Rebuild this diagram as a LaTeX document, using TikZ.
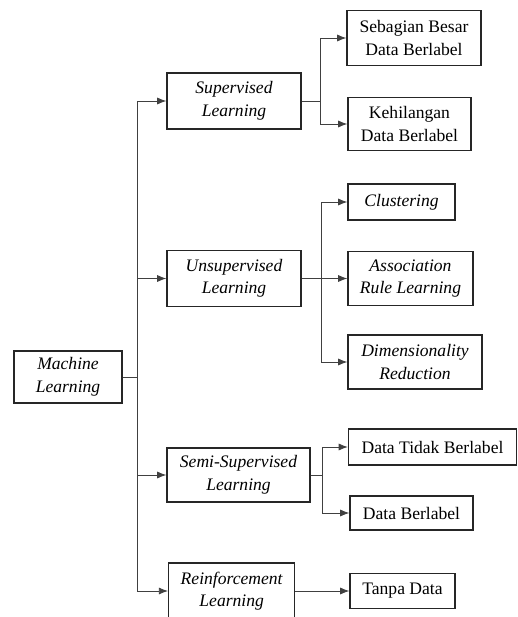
\documentclass[tikz,border=0pt]{standalone}
\usepackage{fontspec}
\setmainfont{Liberation Serif}
\usetikzlibrary{arrows.meta,positioning}

\begin{document}
\begin{tikzpicture}[
    x=0.025cm, y=-0.025cm,
    box/.style={rectangle, draw=black!85, line width=0.9pt, align=center, inner sep=2pt, font=\fontsize{12.5}{16}\selectfont\itshape},
    plainbox/.style={box, font=\fontsize{12.5}{16}\selectfont},
    arrow/.style={-{Latex[length=6.5pt,width=5pt]}, draw=black!75, line width=0.6pt}
]
\useasboundingbox (0,0) rectangle (518,617);

\node[box, minimum width=2.7cm, minimum height=1.3cm] (ml) at (68,377) {Machine\\Learning};

\node[box, minimum width=3.35cm, minimum height=1.4cm] (sup) at (234,101) {Supervised\\Learning};
\node[box, minimum width=3.35cm, minimum height=1.4cm] (unsup) at (234,278.5) {Unsupervised\\Learning};
\node[box, minimum width=3.575cm, minimum height=1.35cm] (semi) at (238.5,475) {Semi-Supervised\\Learning};
\node[box, minimum width=3.15cm, minimum height=1.4cm, anchor=west] (reinf) at (168,591) {Reinforcement\\Learning};

\node[plainbox, minimum width=3.35cm, minimum height=1.375cm] (sebagian) at (414,38) {Sebagian Besar\\Data Berlabel};
\node[plainbox, minimum width=3.075cm, minimum height=1.325cm] (hilang) at (409.5,124) {Kehilangan\\Data Berlabel};

\node[box, minimum width=2.675cm, minimum height=0.9cm] (clus) at (401.5,202) {Clustering};
\node[box, minimum width=3.125cm, minimum height=1.35cm] (assoc) at (410.5,278.5) {Association\\Rule Learning};
\node[box, minimum width=3.35cm, minimum height=1.35cm] (dimred) at (415,362) {Dimensionality\\Reduction};

\node[plainbox, minimum width=4.2cm, minimum height=0.9cm] (tidak) at (432.5,447) {Data Tidak Berlabel};
\node[plainbox, minimum width=3.075cm, minimum height=0.85cm] (label) at (411.5,513) {Data Berlabel};

\node[plainbox, minimum width=2.625cm, minimum height=0.875cm] (tanpa) at (402.5,591) {Tanpa Data};

\draw[arrow] (ml.east) -- ++(15,0) |- (sup.west);
\draw[arrow] (ml.east) -- ++(15,0) |- (unsup.west);
\draw[arrow] (ml.east) -- ++(15,0) |- (semi.west);
\draw[arrow] (ml.east) -- ++(15,0) |- (reinf.west);

\draw[arrow] (sup.east) -- ++(19,0) |- (sebagian.west);
\draw[arrow] (sup.east) -- ++(19,0) |- (hilang.west);

\draw[arrow] (unsup.east) -- ++(20,0) |- (clus.west);
\draw[arrow] (unsup.east) -- (assoc.west);
\draw[arrow] (unsup.east) -- ++(20,0) |- (dimred.west);

\draw[arrow] (semi.east) -- ++(12,0) |- (tidak.west);
\draw[arrow] (semi.east) -- ++(12,0) |- (label.west);

\draw[arrow] (reinf.east) -- (tanpa.west);

\end{tikzpicture}
\end{document}
